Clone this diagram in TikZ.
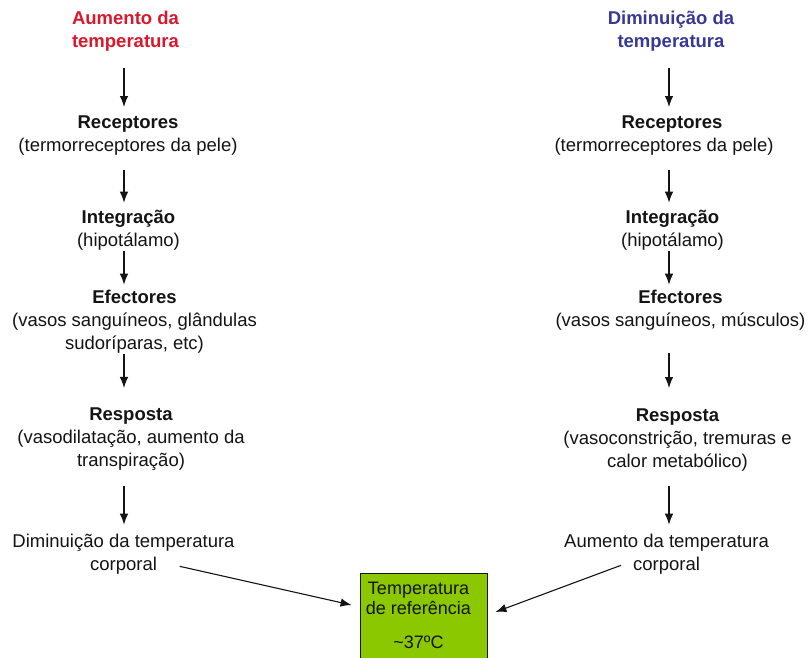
\documentclass[tikz,border=0pt]{standalone}
\usepackage{fontspec}
\setmainfont{Liberation Sans}
\usetikzlibrary{arrows.meta}
\definecolor{tred}{RGB}{218,24,44}
\definecolor{tblue}{RGB}{58,56,150}
\definecolor{tgreen}{RGB}{140,200,0}
\definecolor{ink}{RGB}{20,20,20}
\begin{document}
\begin{tikzpicture}[x=1pt,y=1pt,
  txt/.style={font=\fontsize{18.5}{23}\selectfont, align=center, inner sep=0pt, text=ink},
  ttl/.style={txt, font=\fontsize{18.5}{23}\selectfont\bfseries},
  arr/.style={draw=ink, line width=1.1pt, -{Latex[length=11pt,width=8.5pt]}},
  refbox/.style={draw=ink, line width=0.9pt, fill=tgreen, minimum width=127pt, minimum height=100pt, anchor=north, inner sep=0pt}]
\clip (0,0) rectangle (811,-657);
\fill[white] (0,0) rectangle (811,-657);
\coordinate (lx) at (124,0);
\coordinate (rx) at (669,0);
% left column
\node[ttl, text=tred] (L0) at (125.5,-31.5) {Aumento da\\temperatura};
\node[txt] (L1) at (128,-135.5) {\textbf{Receptores}\\(termorreceptores da pele)};
\node[txt] (L2) at (128.5,-230.5) {\textbf{Integração}\\(hipotálamo)};
\node[txt] (L3) at (134.5,-322) {\textbf{Efectores}\\(vasos sanguíneos, glândulas\\sudoríparas, etc)};
\node[txt] (L4) at (131,-439.5) {\textbf{Resposta}\\(vasodilatação, aumento da\\transpiração)};
\node[txt] (L5) at (123.5,-554.5) {Diminuição da temperatura\\corporal};
% right column
\node[ttl, text=tblue] (R0) at (671,-31.5) {Diminuição da\\temperatura};
\node[txt] (R1) at (664,-135.5) {\hspace*{16pt}\textbf{Receptores}\\(termorreceptores da pele)};
\node[txt] (R2) at (672.5,-230.5) {\textbf{Integração}\\(hipotálamo)};
\node[txt] (R3) at (680.5,-310) {\textbf{Efectores}\\(vasos sanguíneos, músculos)};
\node[txt] (R4) at (677.5,-440.5) {\textbf{Resposta}\\(vasoconstrição, tremuras e\\calor metabólico)};
\node[txt] (R5) at (666.5,-554.5) {Aumento da temperatura\\corporal};
% reference box
\node[refbox] (box) at (423.5,-573) {};
\node[txt, font=\fontsize{18}{20}\selectfont, anchor=north] (boxtxt) at ([xshift=-5pt,yshift=-9pt]box.north) {Temperatura\\de referência\\[14pt]\textasciitilde37ºC};
% left arrows
\draw[arr, shorten <=16.5pt, shorten >=8.5pt] (L0.south -| lx) -- (L1.north -| lx);
\draw[arr, shorten <=14.5pt, shorten >=7.5pt] (L1.south -| lx) -- (L2.north -| lx);
\draw[arr, shorten <=0pt, shorten >=5.5pt] (L2.south -| lx) -- (L3.north -| lx);
\draw[arr, shorten <=0pt, shorten >=20pt] (L3.south -| lx) -- (L4.north -| lx);
\draw[arr, shorten <=15pt, shorten >=9.5pt] (L4.south -| lx) -- (L5.north -| lx);
% right arrows
\draw[arr, shorten <=16.5pt, shorten >=8.5pt] (R0.south -| rx) -- (R1.north -| rx);
\draw[arr, shorten <=14.5pt, shorten >=7.5pt] (R1.south -| rx) -- (R2.north -| rx);
\draw[arr, shorten <=0pt, shorten >=5pt] (R2.south -| rx) -- (R3.north -| rx);
\draw[arr, shorten <=23pt, shorten >=21pt] (R3.south -| rx) -- (R4.north -| rx);
\draw[arr, shorten <=14pt, shorten >=9.5pt] (R4.south -| rx) -- (R5.north -| rx);
% to reference box
\draw[arr] ([shift={(-55pt,8.5pt)}]L5.south east) -- ([shift={(-8pt,-32pt)}]box.north west);
\draw[arr] ([shift={(57pt,9.5pt)}]R5.south west) -- ([shift={(8pt,-39pt)}]box.north east);
\end{tikzpicture}
\end{document}
